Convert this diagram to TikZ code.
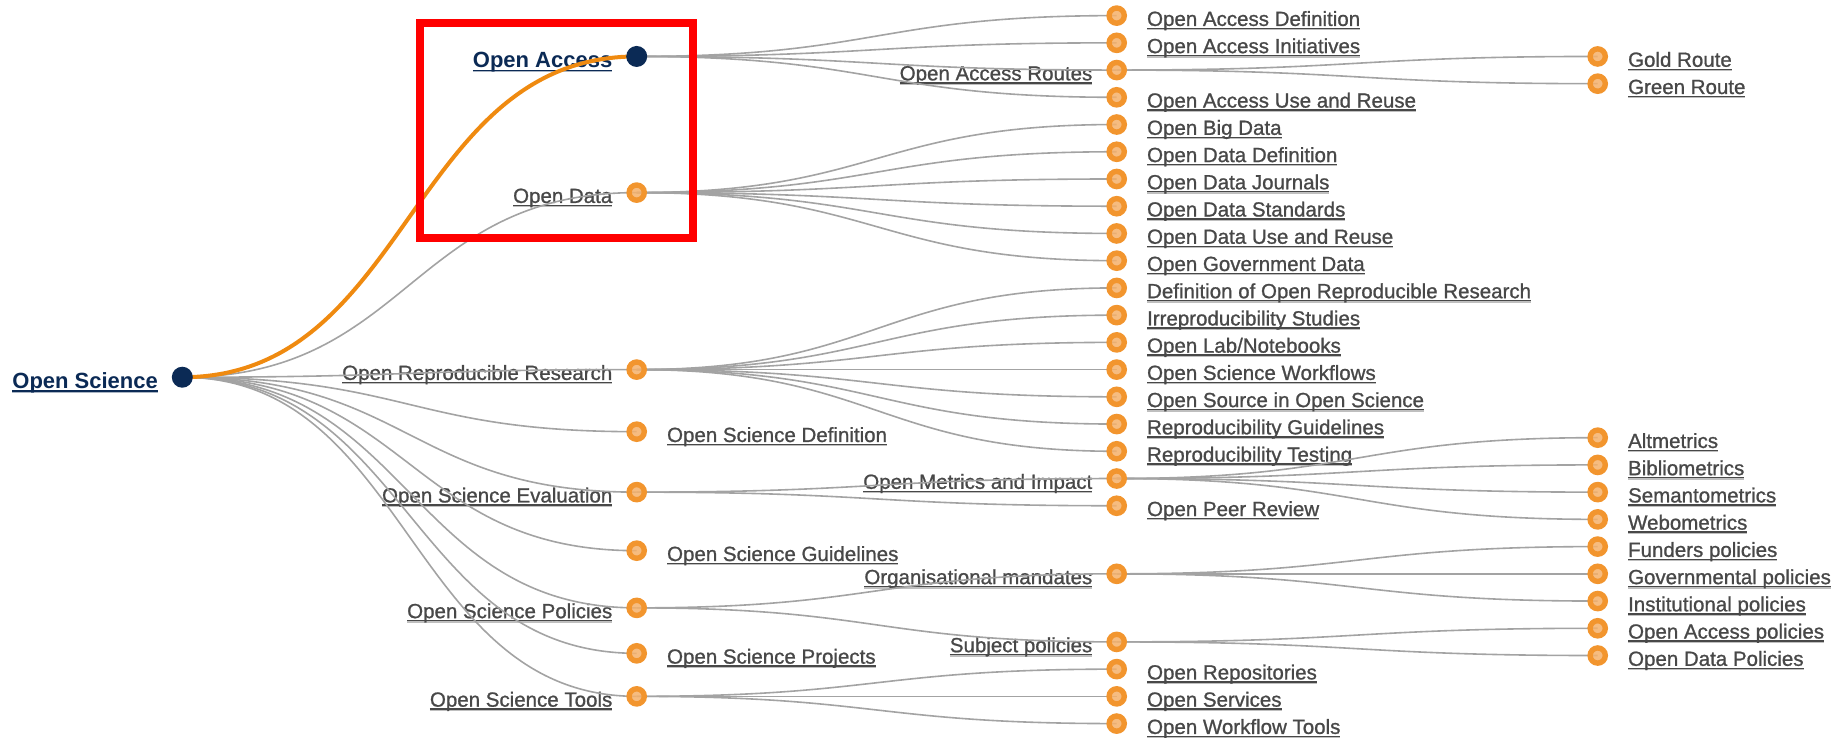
\documentclass[tikz,border=0pt]{standalone}
\usepackage{fontspec}
\setmainfont{Liberation Sans}
\newfontfamily\lblfont{Liberation Sans}[FakeBold=1]
\definecolor{navy}{HTML}{0B2A55}
\definecolor{ring}{HTML}{F2952E}
\definecolor{ringfill}{HTML}{F5B06A}
\definecolor{branchgray}{HTML}{A3A3A3}
\definecolor{trailorange}{HTML}{EF8A10}
\definecolor{labelgray}{HTML}{484848}
\newsavebox\lnkbox
\newcommand\lnk[1]{\sbox\lnkbox{#1}%
  \rlap{\vrule height -0.9pt depth 1.6pt width \wd\lnkbox}%
  \rlap{\color{.!35!white}\vrule height -1.6pt depth 2.2pt width \wd\lnkbox}%
  \usebox\lnkbox}
\pgfdeclarelayer{txt}
\pgfdeclarelayer{lnk}
\pgfsetlayers{txt,lnk,main}
\begin{document}
\begin{tikzpicture}[x=0.5pt,y=-13.615pt,line cap=round,
  dot/.style={circle,draw=ring,fill=ringfill,fill opacity=.85,line width=2.7pt,minimum size=7.6pt,inner sep=0pt},
  navydot/.style={circle,fill=navy,minimum size=10.5pt,inner sep=0pt},
  lab/.style={font=\lblfont\fontsize{10.25}{12}\selectfont,text=labelgray,inner sep=0pt},
  rlab/.style={lab,anchor=base west,xshift=15pt,yshift=-5.15pt},
  llab/.style={lab,anchor=base east,xshift=-12pt,yshift=-5.15pt},
  blab/.style={lab,anchor=base east,xshift=-12pt,yshift=-5.7pt,font=\fontsize{11}{13}\selectfont\bfseries,text=navy},
  branch/.style={draw=branchgray,line width=0.8pt},
  trail/.style={draw=trailorange,line width=2pt}]
\useasboundingbox (0,-0.573) rectangle (1842,26.493);
% dots, rows of 27.23px
\node[navydot] (os) at (182.3,13.28) {};
\node[navydot] (oa) at (636.7,1.5) {};
\foreach \n/\r in {od/6.5,orr/13,osd/15.28,ose/17.5,osg/19.65,osp/21.75,ospj/23.42,ost/25}
  \node[dot] (\n) at (636.7,\r) {};
\foreach \n/\r in {oadef/0,oaini/1,oarou/2,oause/3,obd/4,oddef/5,odj/6,ods/7,odu/8,ogd/9,
  dorr/10,irs/11,oln/12,osw/13,osos/14,rg/15,rt/16,omi/17,opr/18,om/20.5,sbp/23,orep/24,oser/25,owt/26}
  \node[dot] (\n) at (1116.7,\r) {};
\foreach \n/\r in {gold/1.5,green/2.5,alt/15.5,bib/16.5,sem/17.5,web/18.5,fund/19.5,gov/20.5,
  inst/21.5,oap/22.5,odp/23.5}
  \node[dot] (\n) at (1597.7,\r) {};
% labels
\begin{pgfonlayer}{txt}
\node[blab] (os-t) at (os) {\lnk{Open Science}};
\node[blab] (oa-t) at (oa) {\lnk{Open Access}};
\foreach \n/\t in {od/Open Data,orr/Open Reproducible Research,ose/Open Science Evaluation,
  osp/Open Science Policies,ost/Open Science Tools,oarou/Open Access Routes,
  omi/Open Metrics and Impact,om/Organisational mandates,sbp/Subject policies}
  \node[llab] (\n-t) at (\n) {\lnk{\t}};
\foreach \n/\t in {osd/Open Science Definition,osg/Open Science Guidelines,ospj/Open Science Projects,
  oadef/Open Access Definition,oaini/Open Access Initiatives,oause/Open Access Use and Reuse,
  obd/Open Big Data,oddef/Open Data Definition,odj/Open Data Journals,ods/Open Data Standards,
  odu/Open Data Use and Reuse,ogd/Open Government Data,dorr/Definition of Open Reproducible Research,
  irs/Irreproducibility Studies,oln/{Open Lab/Notebooks},osw/Open Science Workflows,
  osos/Open Source in Open Science,rg/Reproducibility Guidelines,rt/Reproducibility Testing,
  opr/Open Peer Review,orep/Open Repositories,oser/Open Services,owt/Open Workflow Tools,
  gold/Gold Route,green/Green Route,alt/Altmetrics,bib/Bibliometrics,sem/Semantometrics,
  web/Webometrics,fund/Funders policies,gov/Governmental policies,inst/Institutional policies,
  oap/Open Access policies,odp/Open Data Policies}
  \node[rlab] (\n-t) at (\n) {\lnk{\t}};
\end{pgfonlayer}
% links
\begin{pgfonlayer}{lnk}
\foreach \c in {oa,od,orr,osd,ose,osg,osp,ospj,ost}
  \draw[branch] (os.center) .. controls +(227.2,0) and +(-227.2,0) .. (\c.center);
\foreach \p/\cs in {oa/{oadef,oaini,oarou,oause},od/{obd,oddef,odj,ods,odu,ogd},
  orr/{dorr,irs,oln,osw,osos,rg,rt},ose/{omi,opr},osp/{om,sbp},ost/{orep,oser,owt}}
  \foreach \c in \cs
    \draw[branch] (\p.center) .. controls +(240,0) and +(-240,0) .. (\c.center);
\foreach \p/\cs in {oarou/{gold,green},omi/{alt,bib,sem,web},om/{fund,gov,inst},sbp/{oap,odp}}
  \foreach \c in \cs
    \draw[branch] (\p.center) .. controls +(240.5,0) and +(-240.5,0) .. (\c.center);
\draw[trail] (os.center) .. controls +(227.2,0) and +(-227.2,0) .. (oa.center);
\end{pgfonlayer}
% highlight frame
\draw[red,line width=4pt] (420,0.272) rectangle (693,8.149);
\end{tikzpicture}
\end{document}
